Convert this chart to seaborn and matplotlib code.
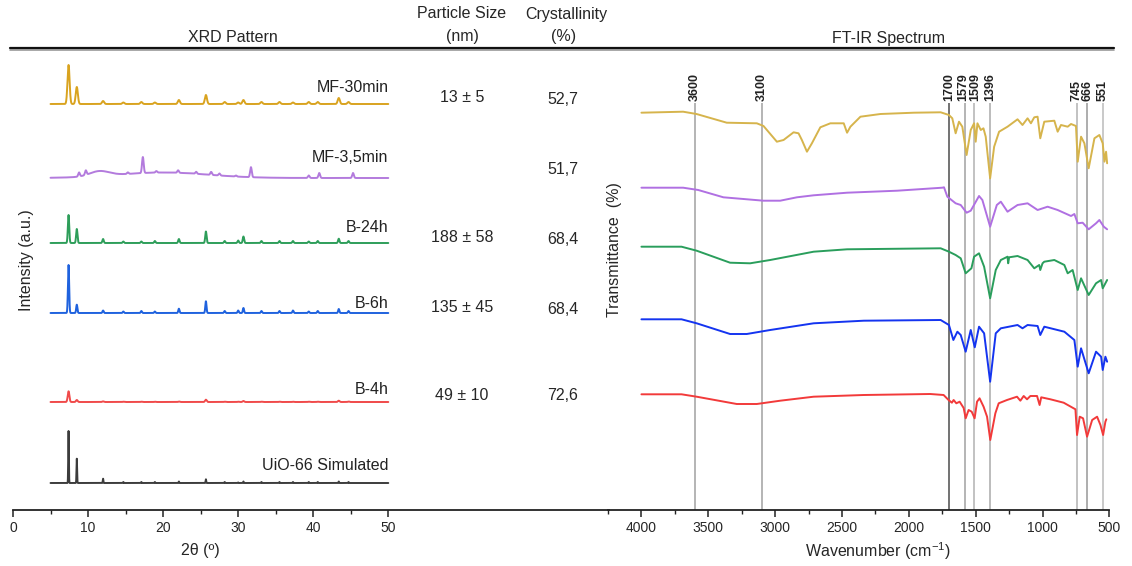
import numpy as np
import pandas as pd
import matplotlib
matplotlib.use("Agg")
import matplotlib.pyplot as plt
from matplotlib.lines import Line2D
import seaborn as sns

sns.set_theme(style="white")
plt.rcParams['font.family'] = ['Liberation Sans', 'DejaVu Sans']
plt.rcParams['mathtext.fontset'] = 'custom'
plt.rcParams['mathtext.rm'] = 'Liberation Sans'
plt.rcParams['mathtext.it'] = 'Liberation Sans:italic'
plt.rcParams['mathtext.bf'] = 'Liberation Sans:bold'

# ---------------- DATA ----------------
xrd_names = ["MF-30min", "MF-3,5min", "B-24h", "B-6h", "B-4h", "UiO-66 Simulated"]
xrd_offsets = [406, 332, 267, 197, 108, 27]
xrd_label_y = [422, 352, 282, 207, 120, 45]

# UiO-66 reflections (2theta) and heights read for each sample
uio_pos = [7.4, 8.5, 12.0, 14.7, 17.1, 18.9, 22.1, 25.7, 28.2, 30.0, 30.7, 33.1,
           35.5, 37.3, 39.4, 40.6, 43.4, 44.7]
h_mf30 = [39, 17, 3, 1.5, 2, 1.5, 4, 9, 2, 1.5, 4, 2, 2, 1.5, 2, 2, 6, 2]
h_b24 = [28, 14, 4, 1.5, 1.5, 2, 4, 11.5, 2, 2.5, 6.5, 2, 2, 2, 1.5, 2, 4.3, 2]
h_b6 = [48, 8.3, 2.5, 1.5, 2, 1.5, 4.3, 11.7, 2, 2.5, 5, 2, 2, 2.5, 1.5, 2, 4, 2]
h_b4 = [10.7, 2, 0.6, 0.3, 0.3, 0.3, 0.5, 2.3, 0.3, 0.3, 1, 0.3, 0.3, 0.3, 0.3, 0.3, 1.3, 0.5]
h_sim = [52, 24.3, 4.3, 1, 1, 1, 1.5, 3.7, 1, 0.5, 1.5, 1, 1, 1, 1, 1, 1.5, 1]

# MF-3,5min: its own reflections plus broad amorphous humps
mf35_pos = [8.8, 9.7, 15.3, 17.3, 19.1, 22.0, 24.4, 26.4, 27.5, 29.7, 31.7, 39.4, 40.8, 45.3]
mf35_h = [4, 4.5, 1.5, 16, 1.5, 2.5, 2, 3, 2, 1, 10, 2.5, 5, 5]
mf35_broad_pos = [11.5, 20.0]
mf35_broad_h = [5.0, 5.5]
mf35_broad_w = [1.3, 6.0]

# Table values
size_vals = ["13 ± 5", "", "188 ± 58", "135 ± 45", "49 ± 10"]
size_y = [98, 0, 237, 308, 396]
cryst_vals = ["52,7", "51,7", "68,4", "68,4", "72,6"]
cryst_y = [99, 169, 239, 310, 396]

# FT-IR spectra (wavenumber, stacked transmittance a.u.)
ir_names = ["MF-30min", "MF-3,5min", "B-24h", "B-6h", "B-4h"]
ir_w_mf30 = [4000, 3688, 3588, 3362, 3137, 3087, 2987, 2937, 2862, 2825, 2800, 2762, 2725,
             2662, 2587, 2487, 2462, 2437, 2362, 2212, 1962, 1762, 1700, 1675, 1650, 1625,
             1600, 1568, 1537, 1512, 1500, 1487, 1462, 1442, 1425, 1392, 1362, 1325, 1262,
             1187, 1150, 1112, 1087, 1062, 1037, 1017, 987, 912, 887, 862, 812, 787, 750,
             737, 712, 687, 655, 612, 575, 550, 537, 525, 517]
ir_t_mf30 = [397.3, 398.3, 396, 387.3, 386.7, 384, 368.3, 370, 377.7, 376.7, 370, 358.3, 366.7,
             382.7, 386.7, 386.7, 377.3, 383.3, 393.3, 396, 397.3, 397.7, 395, 391.7, 376.7, 388.3,
             383.3, 355, 380, 386.7, 368.3, 386.7, 380, 381.7, 373.3, 331.7, 363.3, 378.3, 383.3,
             390.7, 385, 391.7, 386.7, 392.7, 393.3, 371.7, 388.3, 389.3, 378.3, 385, 383.3, 386, 384,
             348.3, 373.3, 366.7, 341.7, 371.7, 375, 366.7, 348.3, 358.3, 346.7]
ir_w_mf35 = [4000, 3688, 3575, 3387, 3087, 2962, 2837, 2712, 2462, 2087, 1750, 1737, 1712,
             1650, 1612, 1568, 1537, 1475, 1450, 1392, 1342, 1312, 1262, 1187, 1112, 1037,
             962, 887, 787, 762, 737, 700, 655, 600, 575, 542, 517]
ir_t_mf35 = [322.3, 322.3, 320, 312.7, 309.3, 309.3, 312.7, 314.7, 317.3, 319.3, 322.3, 322.7, 313.3,
             306.7, 305, 297.3, 299.3, 314, 310, 283.3, 305, 308.3, 298.3, 305, 306.7, 300,
             303.3, 300, 294, 296, 286.7, 287.3, 280.7, 286.7, 290, 283.3, 280.7]
ir_w_b24 = [4000, 3700, 3587, 3337, 3187, 3037, 2712, 2462, 1762, 1700, 1650, 1612, 1575,
            1532, 1512, 1475, 1437, 1392, 1350, 1312, 1262, 1257, 1250, 1187, 1112, 1062,
            1025, 1017, 1000, 987, 912, 837, 812, 775, 737, 712, 655, 600, 562, 550, 517]
ir_t_b24 = [263.3, 263.3, 259.3, 247.3, 246.7, 250, 258.3, 260.7, 261.7, 258.3, 255, 251.7, 236.7,
            241.7, 253.3, 256.7, 243.3, 211.7, 240, 250, 253.3, 246.7, 252.7, 254, 250, 241.7,
            245, 240, 246.7, 248.3, 250, 245, 236.7, 240, 220, 231.7, 215, 226.7, 230, 221.7, 230]
ir_w_b6 = [4000, 3700, 3587, 3337, 3212, 3037, 2712, 2337, 1762, 1700, 1667, 1637, 1612,
           1575, 1537, 1507, 1475, 1437, 1392, 1350, 1312, 1187, 1150, 1112, 1037, 1017,
           987, 837, 762, 737, 712, 655, 600, 562, 550, 530, 517]
ir_t_b6 = [190.7, 190.7, 186.7, 176, 176, 180, 186.7, 189.3, 190, 185, 170, 178.3, 175,
           158.3, 180, 162.7, 183.3, 176.7, 128.3, 176.7, 181.7, 185, 181.7, 185, 184, 175,
           183.3, 178.3, 170, 143.3, 161.7, 136.7, 158.3, 153.3, 140, 153.3, 148.3]
ir_w_b4 = [4000, 3700, 3587, 3287, 3137, 2962, 2712, 2337, 1840, 1740, 1703, 1678, 1665,
           1645, 1620, 1590, 1575, 1553, 1530, 1508, 1490, 1471, 1441, 1415, 1391, 1353,
           1328, 1266, 1191, 1166, 1141, 1116, 1091, 1041, 1022, 1010, 941, 842, 754, 742,
           722, 697, 667, 629, 592, 567, 547, 530, 523]
ir_t_b4 = [115.7, 115.7, 113.3, 106, 106, 109.3, 113.3, 115, 116, 115, 110, 107.3, 110,
           106.7, 108.3, 102, 91.7, 100, 98.3, 91.7, 108.3, 111.7, 103.3, 93.3, 70, 96.7,
           106.7, 110, 113.3, 109.3, 114, 110.7, 114, 114, 105, 112.7, 110.7, 107.3, 100.7, 75,
           93.3, 91.7, 73.3, 90, 93.3, 85, 75, 88.3, 90.7]
ir_peaks = [3600, 3100, 1700, 1579, 1509, 1396, 745, 666, 551]

# ---------------- STYLE ----------------
xrd_colors = ["#D9A31F", "#B37BDD", "#2E9E5A", "#1F62DE", "#F04A4A", "#3C3C3C"]
xrd_sigma = [0.14, 0.11, 0.09, 0.08, 0.11, 0.04]
ir_colors = ["#D6B44C", "#B070E2", "#2A9E5C", "#1434F0", "#F23A3A"]
peak_line_colors = ["#A8A8A8", "#A8A8A8", "#5A5A5A", "#A8A8A8", "#B8B8B8", "#B0B0B0",
                    "#B8B8B8", "#A0A0A0", "#C0C0C0"]
peak_label_nudge_px = [0, 0, 0, -1.5, 1.0, 0.5, 0, 0, 0]

W, H = 1132, 566
fig = plt.figure(figsize=(W / 100, H / 100), dpi=100)


def fx(px):
    return px / W


def fy(py):
    return 1 - py / H


TXT = 11.5

# ---------------- XRD PANEL ----------------
ax1 = fig.add_axes([fx(13), fy(510), (609 - 13) / W, 462 / H])
tt = np.linspace(5, 50, 4501)


def profile(pos, hts, sig):
    y = np.zeros_like(tt)
    for p, h in zip(pos, hts):
        y += h * np.exp(-0.5 * ((tt - p) / sig) ** 2)
    return y


xrd_heights = [h_mf30, None, h_b24, h_b6, h_b4, h_sim]
frames = []
for i, name in enumerate(xrd_names):
    if name == "MF-3,5min":
        y = profile(mf35_pos, mf35_h, xrd_sigma[i])
        for p, h, w in zip(mf35_broad_pos, mf35_broad_h, mf35_broad_w):
            y += h * np.exp(-0.5 * ((tt - p) / w) ** 2)
    else:
        y = profile(uio_pos, xrd_heights[i], xrd_sigma[i])
    frames.append(pd.DataFrame({"two_theta": tt, "intensity": y + xrd_offsets[i], "sample": name}))
xrd_df = pd.concat(frames, ignore_index=True)

sns.lineplot(data=xrd_df, x="two_theta", y="intensity", hue="sample",
             palette=dict(zip(xrd_names, xrd_colors)), hue_order=xrd_names,
             estimator=None, sort=False, legend=False, linewidth=1.4, ax=ax1)

for name, ly in zip(xrd_names, xrd_label_y):
    ax1.text(50, ly, name, ha="right", va="center", fontsize=TXT, color="#222222")

ax1.set_xlim(0, (609 - 13) / 7.506)
ax1.set_ylim(0, 462)
ax1.set_xticks([0, 10, 20, 30, 40, 50])
ax1.set_xticks([5, 15, 25, 35, 45], minor=True)
ax1.set_yticks([])
ax1.set_xlabel("")
ax1.set_ylabel("")
for s in ["top", "left", "right"]:
    ax1.spines[s].set_visible(False)
ax1.spines["bottom"].set_color("#222222")
ax1.spines["bottom"].set_linewidth(1.3)
ax1.tick_params(axis="x", which="major", direction="out", length=5, width=1.1,
                color="#222222", labelsize=10, pad=3, bottom=True)
ax1.tick_params(axis="x", which="minor", direction="out", length=3, width=1,
                color="#222222", bottom=True)
ax1.patch.set_alpha(0)

# ---------------- FT-IR PANEL ----------------
ax2 = fig.add_axes([fx(608), fy(510), (1109.4 - 608) / W, 462 / H])
ir_w = [ir_w_mf30, ir_w_mf35, ir_w_b24, ir_w_b6, ir_w_b4]
ir_t = [ir_t_mf30, ir_t_mf35, ir_t_b24, ir_t_b6, ir_t_b4]
ir_df = pd.concat([pd.DataFrame({"wavenumber": w, "T": t, "sample": n})
                   for n, w, t in zip(ir_names, ir_w, ir_t)], ignore_index=True)

ax2.vlines(ir_peaks, 0, 407, colors=peak_line_colors, linewidth=1.2, zorder=1)
units_per_px = 3750 / (1109.4 - 608)
for p, nd in zip(ir_peaks, peak_label_nudge_px):
    ax2.text(p - nd * units_per_px, 409, str(p), rotation=90, ha="center", va="bottom",
             fontsize=9, fontweight="bold", color="#222222")

sns.lineplot(data=ir_df, x="wavenumber", y="T", hue="sample",
             palette=dict(zip(ir_names, ir_colors)), hue_order=ir_names,
             estimator=None, sort=False, legend=False, linewidth=1.4, ax=ax2, zorder=3)

ax2.set_xlim(4250, 500)
ax2.set_ylim(0, 462)
ax2.set_xticks([4000, 3500, 3000, 2500, 2000, 1500, 1000, 500])
ax2.set_xticks([4250, 3750, 3250, 2750, 2250, 1750, 1250, 750], minor=True)
ax2.set_yticks([])
ax2.set_xlabel("")
ax2.set_ylabel("")
for s in ["top", "left", "right"]:
    ax2.spines[s].set_visible(False)
ax2.spines["bottom"].set_color("#222222")
ax2.spines["bottom"].set_linewidth(1.3)
ax2.tick_params(axis="x", which="major", direction="out", length=5, width=1.1,
                color="#222222", labelsize=10, pad=3, bottom=True)
ax2.tick_params(axis="x", which="minor", direction="out", length=3, width=1,
                color="#222222", bottom=True)
ax2.patch.set_alpha(0)

# ---------------- HEADERS, TABLE, LABELS ----------------
fig.add_artist(Line2D([fx(10), fx(1114)], [fy(49.5), fy(49.5)], color="#9a9a9a", lw=1.2))
fig.add_artist(Line2D([fx(10), fx(1114)], [fy(47.5), fy(47.5)], color="#111111", lw=1.6))

fig.text(fx(233), fy(38), "XRD Pattern", ha="center", va="center", fontsize=TXT)
fig.text(fx(462), fy(14), "Particle Size", ha="center", va="center", fontsize=TXT)
fig.text(fx(462), fy(36), "(nm)", ha="center", va="center", fontsize=TXT)
fig.text(fx(566), fy(14), "Crystallinity", ha="center", va="center", fontsize=TXT)
fig.text(fx(564), fy(36), "(%)", ha="center", va="center", fontsize=TXT)
fig.text(fx(888), fy(38), "FT-IR Spectrum", ha="center", va="center", fontsize=TXT)

for v, y in zip(size_vals, size_y):
    if v:
        fig.text(fx(462), fy(y), v, ha="center", va="center", fontsize=TXT)
for v, y in zip(cryst_vals, cryst_y):
    fig.text(fx(563), fy(y), v, ha="center", va="center", fontsize=TXT)

fig.text(fx(26), fy(260), "Intensity (a.u.)", rotation=90, ha="center", va="center", fontsize=TXT)
fig.text(fx(614), fy(250), "Transmittance  (%)", rotation=90, ha="center", va="center", fontsize=TXT)
fig.text(fx(200), fy(551), "2θ (º)", ha="center", va="center", fontsize=TXT)
fig.text(fx(878), fy(551), "Wavenumber (cm$^{-1}$)", ha="center", va="center", fontsize=TXT)

fig.savefig("out.png", dpi=100)
